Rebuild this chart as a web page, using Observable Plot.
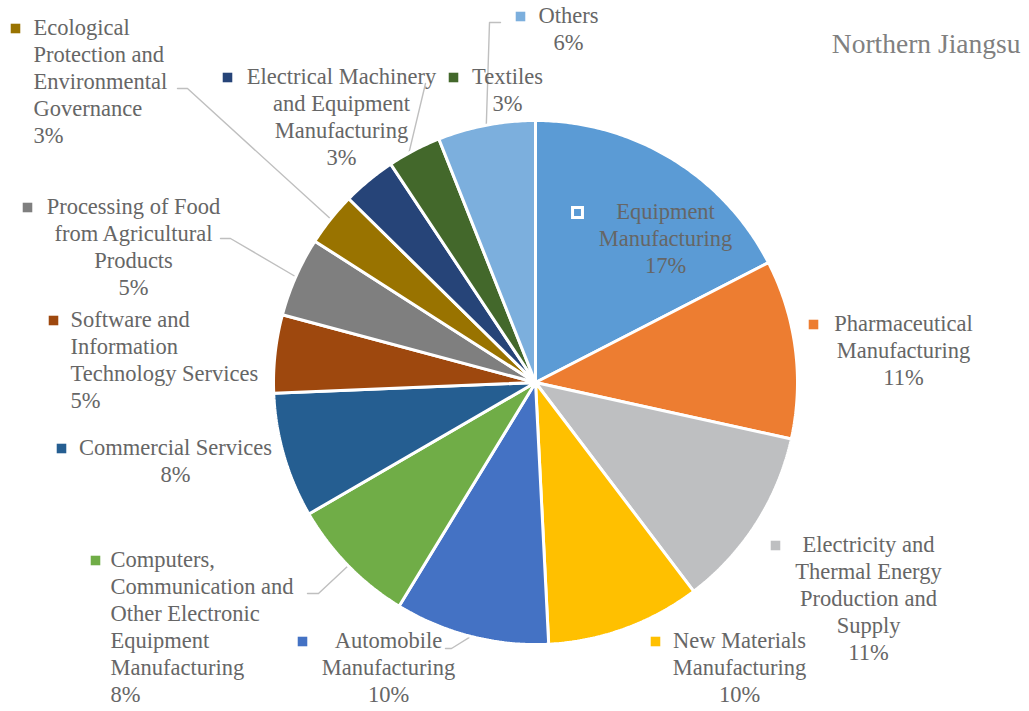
<!DOCTYPE html>
<html>
<head>
<meta charset="utf-8">
<script src="https://cdn.jsdelivr.net/npm/d3@7"></script>
<script src="https://cdn.jsdelivr.net/npm/@observablehq/plot@0.6"></script>
<style>
  html, body { margin: 0; padding: 0; background: #ffffff; }
  #chart svg { display: block; }
  #chart svg text { font-family: "Liberation Serif", "DejaVu Serif", serif; }
</style>
</head>
<body>
<div id="chart"></div>
<script>
// Industry shares, clockwise from twelve o'clock
const sectors = [
  "Equipment Manufacturing",
  "Pharmaceutical Manufacturing",
  "Electricity and Thermal Energy Production and Supply",
  "New Materials Manufacturing",
  "Automobile Manufacturing",
  "Computers, Communication and Other Electronic Equipment Manufacturing",
  "Commercial Services",
  "Software and Information Technology Services",
  "Processing of Food from Agricultural Products",
  "Ecological Protection and Environmental Governance",
  "Electrical Machinery and Equipment Manufacturing",
  "Textiles",
  "Others"
];
const shares = [17.4, 11.0, 11.2, 9.5, 9.5, 7.9, 7.7, 4.8, 4.9, 3.3, 3.3, 3.3, 6.0];
const colors = [
  "#5b9bd5", "#ed7d31", "#bebfc1", "#ffc000", "#4472c4", "#70ad47",
  "#255e91", "#9e480e", "#7f7f7f", "#997300", "#264478", "#43682b", "#7cafdd"
];
const title = "Northern Jiangsu";

// Geometry of the pie (pixels in the 1029 x 711 frame)
const W = 1029, H = 711;
const cx = 535, cy = 382, R = 262;
const FS = 22.5, LH = 27;
const textColor = "#666666";
const font = "Liberation Serif";

// Label placement: wrapped text, anchor x, first baseline, alignment, key centre,
// and an optional leader (start points + where along the slice it lands)
const labelLayout = [
  {lines: ["Equipment", "Manufacturing"], x: 665, base: 219, anchor: "middle", kx: 577, inside: true},
  {lines: ["Pharmaceutical", "Manufacturing"], x: 903, base: 331, anchor: "middle", kx: 813},
  {lines: ["Electricity and", "Thermal Energy", "Production and", "Supply"], x: 868, base: 552, anchor: "middle", kx: 775},
  {lines: ["New Materials", "Manufacturing"], x: 739, base: 648, anchor: "middle", kx: 655},
  {lines: ["Automobile", "Manufacturing"], x: 388, base: 648, anchor: "middle", kx: 302,
   leader: {from: [[445, 648], [451, 648]], at: 0.5}},
  {lines: ["Computers,", "Communication and", "Other Electronic", "Equipment", "Manufacturing"], x: 110, base: 567, anchor: "start", kx: 95,
   leader: {from: [[307, 593], [318, 593]], at: 0.5}},
  {lines: ["Commercial Services"], x: 175, base: 455, anchor: "middle", kx: 61},
  {lines: ["Software and", "Information", "Technology Services"], x: 70, base: 327, anchor: "start", kx: 53},
  {lines: ["Processing of Food", "from Agricultural", "Products"], x: 133, base: 214, anchor: "middle", kx: 27,
   leader: {from: [[220, 238], [230, 238]], at: 0.5}},
  {lines: ["Ecological", "Protection and", "Environmental", "Governance"], x: 33, base: 35, anchor: "start", kx: 15,
   leader: {from: [[177, 88], [187, 88]], at: 0.5}},
  {lines: ["Electrical Machinery", "and Equipment", "Manufacturing"], x: 341, base: 84, anchor: "middle", kx: 227,
   leader: {from: [[425, 83]], at: 1.39}},
  {lines: ["Textiles"], x: 507, base: 84, anchor: "middle", kx: 453},
  {lines: ["Others"], x: 568, base: 23, anchor: "middle", kx: 520,
   leader: {from: [[500, 22], [489, 22]], at: 0.5}}
];

// Slice angles (radians, clockwise from the top)
const total = d3.sum(shares);
const angles = [];
{
  let a = 0;
  shares.forEach((v, i) => {
    const span = v / total * 2 * Math.PI;
    angles.push({name: sectors[i], a0: a, a1: a + span, value: v});
    a += span;
  });
}
const polar = (a, r) => [cx + r * Math.sin(a), cy - r * Math.cos(a)];

// Wedge outlines: centre, arc, back to centre
const wedgePoints = [];
angles.forEach(({name, a0, a1}) => {
  const n = Math.max(8, Math.ceil((a1 - a0) / 0.01));
  wedgePoints.push({name, x: cx, y: cy});
  for (let k = 0; k <= n; ++k) {
    const [x, y] = polar(a0 + (a1 - a0) * k / n, R);
    wedgePoints.push({name, x, y});
  }
});

// Label records
const labels = labelLayout.map((L, i) => {
  const pct = Math.round(shares[i] / total * 100) + "%";
  return {
    name: sectors[i],
    text: [...L.lines, pct].join("\n"),
    x: L.x,
    y: L.base - 4 - 0.71 * FS,
    anchor: L.anchor,
    kx: L.kx,
    ky: L.base - 7,
    inside: !!L.inside
  };
});

// Leader lines from label to the slice rim
const leaderPoints = [];
labelLayout.forEach((L, i) => {
  if (!L.leader) return;
  const {a0, a1} = angles[i];
  const [tx, ty] = polar(a0 + (a1 - a0) * L.leader.at, R);
  L.leader.from.forEach(([x, y]) => leaderPoints.push({name: sectors[i], x, y}));
  leaderPoints.push({name: sectors[i], x: tx, y: ty});
});

const textOpts = {
  x: "x", y: "y", text: "text",
  lineAnchor: "top", lineHeight: LH / FS,
  fontSize: FS, fontFamily: font, fill: textColor
};

const chart = Plot.plot({
  width: W,
  height: H,
  margin: 0,
  style: {background: "#ffffff"},
  x: {domain: [0, W], range: [0, W], axis: null},
  y: {domain: [0, H], range: [0, H], axis: null},
  color: {domain: sectors, range: colors},
  marks: [
    Plot.line(leaderPoints, {x: "x", y: "y", z: "name", stroke: "#bfbfbf", strokeWidth: 1.4}),
    Plot.line(wedgePoints, {
      x: "x", y: "y", z: "name", fill: "name",
      stroke: "#ffffff", strokeWidth: 3, strokeLinejoin: "miter", curve: "linear-closed"
    }),
    Plot.dot(labels.filter(d => !d.inside), {
      x: "kx", y: "ky", fill: "name", symbol: "square", r: 5.4
    }),
    Plot.dot(labels.filter(d => d.inside), {
      x: "kx", y: "ky", fill: "name", stroke: "#ffffff", strokeWidth: 3, symbol: "square", r: 5.6
    }),
    Plot.text(labels.filter(d => d.anchor === "middle"), {...textOpts, textAnchor: "middle"}),
    Plot.text(labels.filter(d => d.anchor === "start"), {...textOpts, textAnchor: "start"}),
    Plot.text([title], {
      frameAnchor: "top-right", dx: -9, dy: 33, text: d => d,
      fontSize: 27.5, fontFamily: font, fill: "#808080", textAnchor: "end"
    })
  ]
});

document.getElementById("chart").appendChild(chart);
</script>
</body>
</html>
